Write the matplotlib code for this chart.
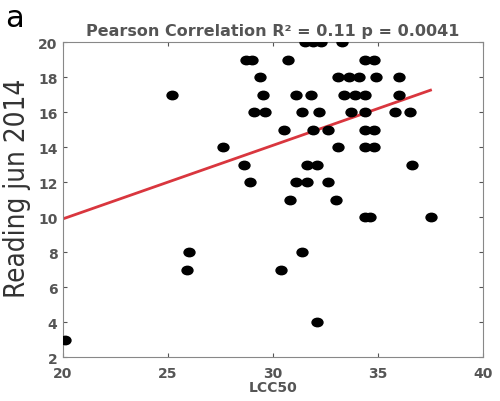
import numpy as np
import matplotlib
matplotlib.use("Agg")
from matplotlib import pyplot as plt
from matplotlib.path import Path
from matplotlib.transforms import Affine2D

# LCC50 values and reading scores
lcc50 = [31.5, 31.9, 32.3, 33.3,
         28.7, 29.0, 30.7, 34.4, 34.8,
         29.4, 33.1, 33.6, 34.1, 34.9, 36.0,
         25.2, 29.5, 31.1, 31.8, 33.4, 33.9, 34.4, 36.0,
         29.1, 29.6, 31.4, 32.2, 33.7, 34.4, 35.8, 36.5,
         30.5, 31.9, 32.6, 34.4, 34.8,
         27.6, 33.1, 34.4, 34.8,
         28.6, 31.6, 32.1, 36.6,
         28.9, 31.1, 31.6, 32.6,
         30.8, 33.0,
         34.4, 34.6, 37.5,
         26.0, 31.4,
         25.9, 30.4,
         32.1,
         20.1]
reading = [20, 20, 20, 20,
           19, 19, 19, 19, 19,
           18, 18, 18, 18, 18, 18,
           17, 17, 17, 17, 17, 17, 17, 17,
           16, 16, 16, 16, 16, 16, 16, 16,
           15, 15, 15, 15, 15,
           14, 14, 14, 14,
           13, 13, 13, 13,
           12, 12, 12, 12,
           11, 11,
           10, 10, 10,
           8, 8,
           7, 7,
           4,
           3]

# regression line as drawn
fit_x = [20.0, 37.5]
fit_y = [9.9, 17.25]

xticks = [20, 25, 30, 35, 40]
yticks = [2, 4, 6, 8, 10, 12, 14, 16, 18, 20]

grey = '#555555'

fig = plt.figure(figsize=(5.0, 4.02), dpi=100)
ax = fig.add_axes([0.126, 0.109, 0.840, 0.784])

# slightly wide dots, like the original
dot = Path.unit_circle().transformed(Affine2D().scale(1.3, 1.0))
ax.scatter(lcc50, reading, s=62, marker=dot, color='black', zorder=3)
ax.plot(fit_x, fit_y, color='#d9363e', linewidth=2, zorder=2)

ax.set_xlim(20, 40)
ax.set_ylim(2, 20)
ax.set_xticks(xticks)
ax.set_yticks(yticks)
ax.tick_params(direction='in', top=True, right=True, length=3,
               color=grey, labelcolor=grey, labelsize=10)
ax.tick_params(axis='x', pad=6)
ax.tick_params(axis='y', pad=4)
for lab in ax.get_xticklabels() + ax.get_yticklabels():
    lab.set_fontweight('bold')
for sp in ax.spines.values():
    sp.set_color('#888888')

ax.set_xlabel('LCC50', color=grey, fontsize=10, fontweight='bold', labelpad=0)
ax.set_ylabel('Reading jun 2014', color='#333333', fontsize=20,
              fontstretch='condensed')
ax.yaxis.set_label_coords(-0.075, 0.54)
ax.set_title('Pearson Correlation R² = 0.11 p = 0.0041', color=grey,
             fontsize=11.5, fontweight='bold', pad=5)
fig.text(0.01, 0.99, 'a', fontsize=22, va='top', ha='left')

fig.savefig('out.png', dpi=100)
